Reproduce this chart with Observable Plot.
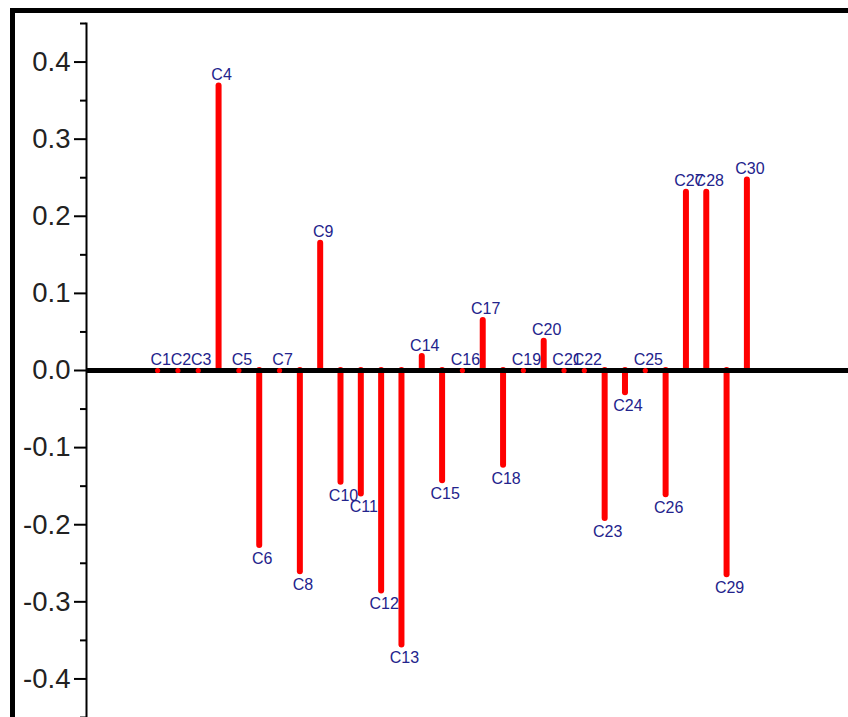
<!DOCTYPE html>
<html>
<head>
<meta charset="utf-8">
<script src="https://cdn.jsdelivr.net/npm/d3@7"></script>
<script src="https://cdn.jsdelivr.net/npm/@observablehq/plot@0.6"></script>
<style>
  html, body { margin: 0; padding: 0; background: #fff; }
  #wrap { position: relative; width: 848px; height: 717px; overflow: hidden; }
  #chart { position: absolute; left: 0; top: 0; }
  #border { position: absolute; left: 10px; top: 8px; right: -20px; bottom: -20px;
            border-top: 5px solid #000; border-left: 5px solid #000; z-index: 2; pointer-events: none; }
</style>
</head>
<body>
<div id="wrap"><div id="chart"></div><div id="border"></div></div>
<script>
const names = ["C1","C2","C3","C4","C5","C6","C7","C8","C9","C10",
               "C11","C12","C13","C14","C15","C16","C17","C18","C19","C20",
               "C21","C22","C23","C24","C25","C26","C27","C28","C29","C30"];
const values = [0, 0, 0, 0.369, 0, -0.227, 0, -0.261, 0.165, -0.145,
                -0.160, -0.286, -0.356, 0.018, -0.143, 0, 0.065, -0.123, 0, 0.038,
                0, 0, -0.192, -0.029, 0, -0.161, 0.231, 0.231, -0.265, 0.247];
const majorTicks = [-0.4, -0.3, -0.2, -0.1, 0, 0.1, 0.2, 0.3, 0.4];
const minorTicks = [-0.45, -0.35, -0.25, -0.15, -0.05, 0.05, 0.15, 0.25, 0.35, 0.45];
const yDomain = [-0.45, 0.45];
const xDomain = [-2.5, 35];

const data = names.map((n, i) => ({name: n, idx: i + 1, v: values[i]}));
const up = data.filter(d => d.v >= 0);
const down = data.filter(d => d.v < 0);
const zeros = data.filter(d => d.v === 0);
const bars = data.filter(d => d.v !== 0);

const labelColor = "#23238c";
const plot = Plot.plot({
  width: 848,
  height: 717,
  marginLeft: 86,
  marginRight: 0,
  marginTop: 23,
  marginBottom: 0,
  style: {background: "transparent", fontFamily: "Arial, 'Liberation Sans', sans-serif"},
  x: {domain: xDomain, axis: null},
  y: {domain: yDomain, axis: null},
  marks: [
    Plot.ruleX(bars, {x: "idx", y1: 0, y2: "v", stroke: "#ff0000", strokeWidth: 6, strokeLinecap: "round"}),
    Plot.ruleY([0], {stroke: "#000", strokeWidth: 5}),
    Plot.dot(zeros, {x: "idx", y: "v", r: 2.6, fill: "#ff0000", stroke: null}),
    Plot.frame({anchor: "left", stroke: "#000", strokeWidth: 2}),
    Plot.axisY({ticks: minorTicks, tickSize: 6, tickFormat: null, text: null, label: null,
                stroke: "#000", strokeWidth: 2}),
    Plot.axisY({ticks: majorTicks, tickSize: 12, tickPadding: 4, tickFormat: d => d.toFixed(1), label: null,
                fontSize: 27.5, fill: "#222", stroke: "#000", strokeWidth: 2}),
    Plot.text(up, {x: "idx", y: "v", text: "name", fill: labelColor, fontSize: 16,
                   lineAnchor: "bottom", dy: -6, dx: 3}),
    Plot.text(down, {x: "idx", y: "v", text: "name", fill: labelColor, fontSize: 16,
                     lineAnchor: "top", dy: 7, dx: 3})
  ]
});
document.getElementById("chart").appendChild(plot);
</script>
</body>
</html>
